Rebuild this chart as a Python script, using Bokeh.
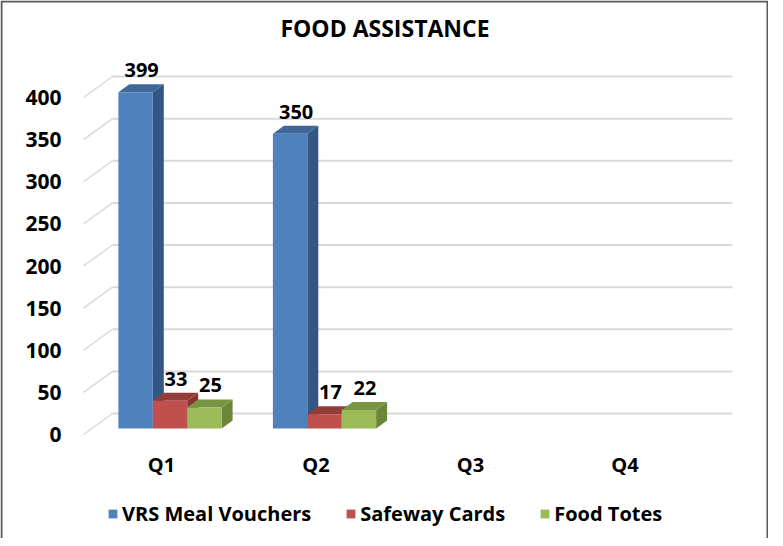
from bokeh.plotting import figure
from bokeh.models import Range1d, Legend, LegendItem
from bokeh.core.properties import value
from bokeh.embed import file_html
from bokeh.resources import INLINE

# ---- data ----
quarters = ["Q1", "Q2", "Q3", "Q4"]
series_names = ["VRS Meal Vouchers", "Safeway Cards", "Food Totes"]
vrs_meal_vouchers = [399, 350, None, None]
safeway_cards = [33, 17, None, None]
food_totes = [25, 22, None, None]
y_ticks = [0, 50, 100, 150, 200, 250, 300, 350, 400]
title_text = "FOOD ASSISTANCE"

# ---- styling ----
FRONT = ["#4F81BD", "#C0504D", "#9BBB59"]
TOP = ["#3F6798", "#943C3A", "#789542"]
SIDE = ["#335683", "#873533", "#6A8638"]
FONT = value("Open Sans")

W, H = 768, 538
SX = 154.5      # px per category
SY = 0.8425     # px per value unit
def ux(px):
    return px / SX
def uy(px):
    return px / SY

X0 = 0.5 - ux(169.5)
X1 = X0 + ux(W)
Y0 = -uy(110)
Y1 = Y0 + uy(H)

p = figure(width=W, height=H, x_range=Range1d(X0, X1), y_range=Range1d(Y0, Y1),
           output_backend="svg", toolbar_location=None, min_border=0,
           x_axis_location=None, y_axis_location=None, title=None,
           outline_line_color=None, background_fill_color="white",
           border_fill_color="white")
p.grid.visible = False

# ---- back wall gridlines and wall diagonals ----
back_dy = uy(15)
front_dy = uy(-6)
grid_x0, grid_x1 = 0.5 + ux(120 - 177.5), 0.5 + ux(740 - 177.5)
wall_x0 = 0.5 + ux(91 - 177.5)
p.multi_line(xs=[[grid_x0, grid_x1] for t in y_ticks],
             ys=[[t + back_dy, t + back_dy] for t in y_ticks],
             line_color="#D9D9D9", line_width=2)
p.multi_line(xs=[[wall_x0, grid_x0] for t in y_ticks],
             ys=[[t + front_dy, t + back_dy] for t in y_ticks],
             line_color="#D9D9D9", line_width=1.5)

# y tick labels
p.text(x=[0.5 + ux(69 - 177.5)] * len(y_ticks), y=[t + front_dy for t in y_ticks],
       text=[str(t) for t in y_ticks], text_align="right", text_baseline="middle",
       text_font=FONT, text_font_style="bold", text_font_size="21px", text_color="black")

# ---- 3D bars ----
bw = ux(34.4)
ddx, ddy = ux(11), uy(8)
all_series = [vrs_meal_vouchers, safeway_cards, food_totes]
front_renderers = []
for si, vals in enumerate(all_series):
    xs_c, tops = [], []
    for qi, v in enumerate(vals):
        if v is None:
            continue
        xs_c.append(qi + 0.5 + (si - 1) * bw)
        tops.append(v)
    left = [c - bw / 2 for c in xs_c]
    right = [c + bw / 2 for c in xs_c]
    # side faces
    p.patches(xs=[[r, r + ddx, r + ddx, r] for r in right],
              ys=[[0, ddy, v + ddy, v] for v in tops],
              fill_color=SIDE[si], line_color=None)
    # top faces
    p.patches(xs=[[l, r, r + ddx, l + ddx] for l, r in zip(left, right)],
              ys=[[v, v, v + ddy, v + ddy] for v in tops],
              fill_color=TOP[si], line_color=None)
    # front faces
    fr = p.quad(left=left, right=right, bottom=[0] * len(tops), top=tops,
                fill_color=FRONT[si], line_color=None)
    front_renderers.append(fr)
    # value labels
    p.text(x=[c + ux(6) for c in xs_c], y=tops, text=[str(v) for v in tops],
           y_offset=-22, text_align="center", text_baseline="middle",
           text_font=FONT, text_font_style="bold", text_font_size="20px",
           text_color="black")

# category labels
p.text(x=[i + 0.5 - ux(8.5) for i in range(len(quarters))], y=[-uy(36)] * len(quarters),
       text=quarters, text_align="center", text_baseline="middle",
       text_font=FONT, text_font_style="bold", text_font_size="20px", text_color="black")

# title
p.text(x=[0.5 + ux(392.5 - 177.5)], y=[uy(436 - 35.5)], text=[title_text],
       text_align="center", text_baseline="middle", text_font=FONT,
       text_font_style="bold", text_font_size="23px", text_color="black")

# border (left, top, right)
e = ux(1)
ey = uy(1)
p.line(x=[X0 + e, X0 + e, X1 - e, X1 - e], y=[Y0, Y1 - ey, Y1 - ey, Y0],
       line_color="#595959", line_width=2)

legend = Legend(items=[LegendItem(label=n, renderers=[r]) for n, r in zip(series_names, front_renderers)],
                orientation="horizontal", location=(107, 11),
                label_text_font="Open Sans", label_text_font_style="bold",
                label_text_font_size="20px", label_text_color="black",
                glyph_width=11, glyph_height=11, label_standoff=4, spacing=34,
                padding=0, margin=0, border_line_color=None, background_fill_alpha=0)
p.add_layout(legend)

open("out.html", "w").write(file_html(p, INLINE))
